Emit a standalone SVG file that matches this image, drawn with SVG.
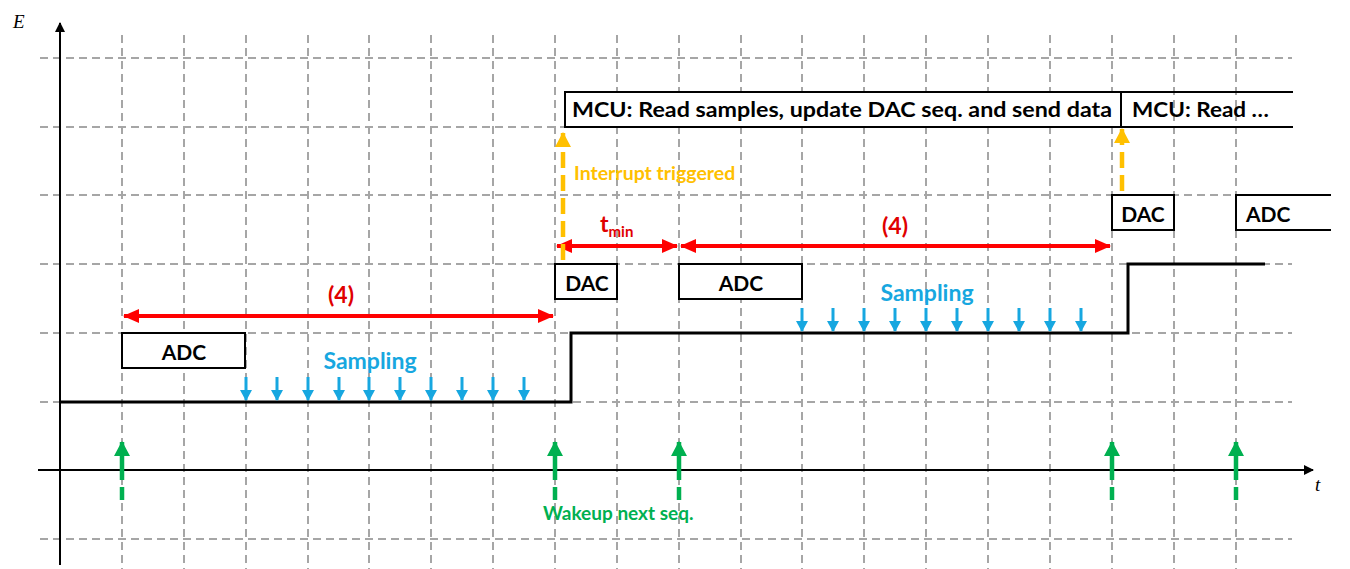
<svg xmlns="http://www.w3.org/2000/svg" width="1350" height="569" viewBox="0 0 1350 569">
<style>
.grid{stroke:#a6a6a6;stroke-width:2;stroke-dasharray:8 5;fill:none}
.axis{stroke:#000;stroke-width:2;fill:none}
.sig{stroke:#000;stroke-width:3;fill:none}
.box{fill:#fff;stroke:#000;stroke-width:2}
.open{fill:none;stroke:#000;stroke-width:2}
.lbl{font-family:Lato,"Liberation Sans",sans-serif;font-weight:bold;font-size:21px;fill:#000}
.red{stroke:#ff0000;stroke-width:4;fill:none}
.redt{font-family:Lato,"Liberation Sans",sans-serif;font-weight:bold;font-size:23px;fill:#e00000}
.blue{stroke:#17a7e0;stroke-width:3;fill:none}
.bluet{font-family:Lato,"Liberation Sans",sans-serif;font-weight:bold;font-size:23px;fill:#17a7e0}
.green{stroke:#00b050;stroke-width:4.5;stroke-dasharray:13 7 60;fill:none}
.greent{font-family:Lato,"Liberation Sans",sans-serif;font-weight:bold;font-size:19px;fill:#00b050}
.yel{stroke:#ffc000;stroke-width:4.5;stroke-dasharray:16 7;fill:none}
.yelt{font-family:Lato,"Liberation Sans",sans-serif;font-weight:bold;font-size:19.5px;fill:#ffc000}
.ax{font-family:"Liberation Serif",serif;font-style:italic;font-size:19px;fill:#000}
</style>
<defs>
<marker id="ah" markerWidth="10" markerHeight="10" refX="9" refY="5" orient="auto" markerUnits="userSpaceOnUse"><path d="M0,0 L10,5 L0,10 z" fill="#000"/></marker>
<marker id="rh" markerWidth="16" markerHeight="14" refX="15" refY="7" orient="auto-start-reverse" markerUnits="userSpaceOnUse"><path d="M0,0 L16,7 L0,14 z" fill="#ff0000"/></marker>
<marker id="bh" markerWidth="11" markerHeight="12" refX="10" refY="6" orient="auto" markerUnits="userSpaceOnUse"><path d="M0,0 L11,6 L0,12 z" fill="#17a7e0"/></marker>
<marker id="gh" markerWidth="16" markerHeight="16" refX="14" refY="8" orient="auto" markerUnits="userSpaceOnUse"><path d="M0,0 L15,8 L0,16 z" fill="#00b050"/></marker>
<marker id="yh" markerWidth="16" markerHeight="16" refX="14" refY="8" orient="auto" markerUnits="userSpaceOnUse"><path d="M0,0 L15,8 L0,16 z" fill="#ffc000"/></marker>
</defs>
<rect width="1350" height="569" fill="#fff"/>
<g id="grid">
<path class="grid" d="M40,58H1292M40,127H1292M40,195H1292M40,264H1292M40,333H1292M40,402H1292M40,539H1292"/>
<path class="grid" d="M122,35V569M184,35V569M246,35V569M308,35V569M369,35V569M431,35V569M493,35V569M555,35V569M617,35V569M679,35V569M741,35V569M802,35V569M864,35V569M926,35V569M988,35V569M1050,35V569M1112,35V569M1174,35V569M1236,35V569"/>
</g>
<g id="axes">
<line class="axis" x1="60" y1="565" x2="60" y2="23" marker-end="url(#ah)"/>
<line class="axis" x1="38" y1="470" x2="1313" y2="470" marker-end="url(#ah)"/>
<text class="ax" x="13" y="28">E</text>
<text class="ax" x="1315" y="491">t</text>
</g>
<g id="signal">
<path class="sig" d="M60,402H571V333H1128V264H1265"/>
</g>
<g id="adc1"><rect class="box" x="122" y="333" width="123" height="35"/><text class="lbl" x="184" y="360" text-anchor="middle">ADC</text></g>
<g id="dac1"><rect class="box" x="555" y="264" width="62" height="35"/><text class="lbl" x="587" y="291" text-anchor="middle">DAC</text></g>
<g id="adc2"><rect class="box" x="679" y="264" width="123" height="35"/><text class="lbl" x="741" y="291" text-anchor="middle">ADC</text></g>
<g id="dac2"><rect class="box" x="1112" y="195" width="62" height="35"/><text class="lbl" x="1143" y="222" text-anchor="middle">DAC</text></g>
<g id="adc3"><path class="open" d="M1331,195H1236V230H1331"/><text class="lbl" x="1246" y="222">ADC</text></g>
<g id="mcu1"><rect class="box" x="565" y="92" width="556" height="35"/><text class="lbl" x="572" y="117" textLength="540" lengthAdjust="spacingAndGlyphs">MCU: Read samples, update DAC seq. and send data</text></g>
<g id="mcu2"><path class="open" d="M1293,92H1121V127H1293"/><text class="lbl" x="1132" y="117" textLength="137" lengthAdjust="spacingAndGlyphs">MCU: Read …</text></g>
<g id="connectors">
<line class="red" x1="124" y1="316" x2="553" y2="316" marker-start="url(#rh)" marker-end="url(#rh)"/>
<text class="redt" x="341" y="303" text-anchor="middle">(4)</text>
<line class="red" x1="557" y1="246" x2="677" y2="246" marker-start="url(#rh)" marker-end="url(#rh)"/>
<text class="redt" x="600" y="232">t<tspan font-size="15" dy="5">min</tspan></text>
<line class="red" x1="681" y1="246" x2="1110" y2="246" marker-start="url(#rh)" marker-end="url(#rh)"/>
<text class="redt" x="895" y="234" text-anchor="middle">(4)</text>
<g id="samp1">
<line class="blue" x1="246" y1="377" x2="246" y2="400" marker-end="url(#bh)"/>
<line class="blue" x1="277" y1="377" x2="277" y2="400" marker-end="url(#bh)"/>
<line class="blue" x1="308" y1="377" x2="308" y2="400" marker-end="url(#bh)"/>
<line class="blue" x1="339" y1="377" x2="339" y2="400" marker-end="url(#bh)"/>
<line class="blue" x1="369" y1="377" x2="369" y2="400" marker-end="url(#bh)"/>
<line class="blue" x1="400" y1="377" x2="400" y2="400" marker-end="url(#bh)"/>
<line class="blue" x1="431" y1="377" x2="431" y2="400" marker-end="url(#bh)"/>
<line class="blue" x1="462" y1="377" x2="462" y2="400" marker-end="url(#bh)"/>
<line class="blue" x1="493" y1="377" x2="493" y2="400" marker-end="url(#bh)"/>
<line class="blue" x1="524" y1="377" x2="524" y2="400" marker-end="url(#bh)"/>
<text class="bluet" x="370" y="369" text-anchor="middle">Sampling</text>
</g>
<g id="samp2">
<line class="blue" x1="802" y1="308" x2="802" y2="331" marker-end="url(#bh)"/>
<line class="blue" x1="833" y1="308" x2="833" y2="331" marker-end="url(#bh)"/>
<line class="blue" x1="864" y1="308" x2="864" y2="331" marker-end="url(#bh)"/>
<line class="blue" x1="895" y1="308" x2="895" y2="331" marker-end="url(#bh)"/>
<line class="blue" x1="926" y1="308" x2="926" y2="331" marker-end="url(#bh)"/>
<line class="blue" x1="957" y1="308" x2="957" y2="331" marker-end="url(#bh)"/>
<line class="blue" x1="988" y1="308" x2="988" y2="331" marker-end="url(#bh)"/>
<line class="blue" x1="1019" y1="308" x2="1019" y2="331" marker-end="url(#bh)"/>
<line class="blue" x1="1050" y1="308" x2="1050" y2="331" marker-end="url(#bh)"/>
<line class="blue" x1="1081" y1="308" x2="1081" y2="331" marker-end="url(#bh)"/>
<text class="bluet" x="927" y="301" text-anchor="middle">Sampling</text>
</g>
<line class="green" x1="122" y1="500" x2="122" y2="442" marker-end="url(#gh)"/>
<line class="green" x1="555" y1="500" x2="555" y2="442" marker-end="url(#gh)"/>
<line class="green" x1="679" y1="500" x2="679" y2="442" marker-end="url(#gh)"/>
<line class="green" x1="1112" y1="500" x2="1112" y2="442" marker-end="url(#gh)"/>
<line class="green" x1="1236" y1="500" x2="1236" y2="442" marker-end="url(#gh)"/>
<text class="greent" x="543" y="520">Wakeup next seq.</text>
<line class="yel" x1="563" y1="260" x2="563" y2="133" marker-end="url(#yh)"/>
<line class="yel" x1="1122" y1="191" x2="1122" y2="129" marker-end="url(#yh)"/>
<text class="yelt" x="574" y="180">Interrupt triggered</text>
</g>
</svg>
